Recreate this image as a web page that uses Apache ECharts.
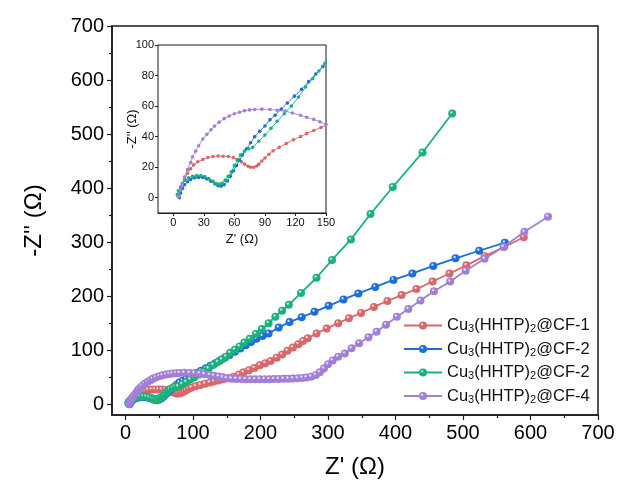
<!DOCTYPE html>
<html><head><meta charset="utf-8">
<script src="https://cdn.jsdelivr.net/npm/echarts@6/dist/echarts.min.js"></script>
<style>html,body{margin:0;padding:0;background:#fff}#c{width:618px;height:489px}</style>
</head><body><div id="c"></div>
<script>
const seriesKeys = ['CF-1', 'CF-2a', 'CF-2b', 'CF-4'];
const seriesLabels = ['CF-1', 'CF-2', 'CF-2', 'CF-4'];
const seriesColors = ['#d8676a', '#1b6ddd', '#1ab27a', '#a17fd6'];

const cf1 = [[5,1],[7,5],[9,9],[11,12],[14,16],[17,19],[20,21.5],[24,23.5],[29,25],[34,26.3],[39,27],[44,27.3],[49,27.2],[54,27],[59,26.3],[63,25],[67,23.5],[70,22],[73.5,20.6],[76,20],[79,20],[82,20.8],[84,22],[87,24],[90,26],[94,28.5],[98,30.7],[104,33],[111,35.5],[118,38],[125,40],[131,42],[138,44],[145,46],[152,48],[160,51],[168,55],[175,59],[183,63],[191,67],[199,72],[207,76],[215,80],[224,86],[232,92],[240,99],[248,105],[256,111],[263,117],[270,122],[283,131],[298,140],[315,150],[331,159],[349,169],[368,180],[388,191],[409,202],[431,213],[455,227],[480,242],[505,257],[532,274],[561,291],[590,309]];

const cf2a = [[6,0],[7,3],[9,6],[11,8.5],[14,10.5],[17,12],[21,13],[25,13.3],[29,13.2],[33,12.3],[37,10.8],[41,9],[44,7.8],[47,7.6],[50,8.5],[53,11],[56,14],[59,17.5],[62,21],[65,24.5],[68,28],[72,32],[76,36],[80,40],[85,43.5],[90,47],[95,51],[100,54],[106,58],[112,62],[119,66.5],[126,71],[133,76],[140,81],[147,86],[154,91],[162,97],[170,103],[178,109],[186,115],[194,121],[203,126],[212,131],[227,142],[243,152],[261,161],[280,171],[301,182],[323,194],[345,205],[370,217],[397,230],[425,242],[456,256],[489,270],[524,284],[562,299]];

const cf2b = [[4,2],[5,4.5],[7,7],[9,9.5],[12,11.5],[15,13],[19,14],[23,14.5],[27,14.5],[31,13.8],[35,12.5],[39,10.8],[42,9.3],[45,8.9],[48,9.5],[51,11.5],[54,14],[57,17],[60,21],[63,24.5],[66,28],[70,30.5],[74,32],[78,33],[84,37],[90,41],[96,45.5],[102,50],[109,55],[116,60],[123,66],[130,72.5],[137,78],[143,83],[149,88],[155,95],[162,101],[169,107],[176,114],[184,121],[193,130],[202,139],[212,150],[222,162],[232,173],[242,184],[260,206],[283,234],[306,267],[334,305],[363,352],[396,402],[440,466],[484,538]];

const cf4 = [[5,0.5],[7,5],[9,9],[11,13.6],[14,18.5],[17,23],[19,26.8],[22,30.5],[25,34],[29,38.4],[33,41.5],[37,44.5],[40.5,46.9],[45,49.5],[50,51.8],[55,53.5],[60,55],[65,56],[70,57],[75,57.5],[80,57.8],[87,58],[95,57.8],[102,57.3],[110,56.7],[117,55.5],[125,54],[131,52.7],[138,51.3],[144,49.7],[150,48],[157,47.3],[164,46.8],[171,46.5],[178,46.3],[185,46.2],[192,46.2],[199,46.2],[206,46.3],[213,46.4],[220,46.5],[227,46.7],[234,47],[241,47.2],[248,47.5],[255,48],[262,48.6],[268,49.5],[275,51],[282,54],[288,59],[294,66],[300,74],[307,81],[315,88],[325,94],[335,103.5],[346,113],[360,124],[372,134],[386,147],[402,162],[419,176],[437,192],[457,209],[481,227],[504,247],[532,269],[560,291],[591,319],[626,347]];

const seriesData = [cf1, cf2a, cf2b, cf4];

const mainMajorTicks = [0,100,200,300,400,500,600,700];
const mainMinorTicks = [50,150,250,350,450,550,650];
const insetXTicks = [0,30,60,90,120,150];
const insetYTicks = [0,20,40,60,80,100];

const FONT = 'Liberation Sans, Arial, sans-serif';
const AX = '#1a1a1a';

function sphere(c) {
  return {type:'radial', x:0.38, y:0.35, r:0.75, colorStops:[
    {offset:0, color:'#ffffff'}, {offset:0.3, color:c}, {offset:1, color:c}]};
}

function majorAxis(extra) {
  return Object.assign({
    type:'value', min:-20, max:700, gridIndex:0,
    axisLine:{show:true, onZero:false, lineStyle:{color:AX, width:1.5}},
    axisTick:{show:true, inside:false, length:5, customValues:mainMajorTicks, lineStyle:{color:AX, width:1.2}},
    axisLabel:{show:true, customValues:mainMajorTicks, fontSize:20, color:'#000', fontFamily:FONT, margin:8},
    splitLine:{show:false}
  }, extra);
}
function minorAxis(extra) {
  return Object.assign({
    type:'value', min:-20, max:700, gridIndex:0, offset:0,
    axisLine:{show:false, onZero:false},
    axisTick:{show:true, inside:false, length:3, customValues:mainMinorTicks, lineStyle:{color:AX, width:1.2}},
    axisLabel:{show:false},
    splitLine:{show:false}
  }, extra);
}

const xAxes = [
  majorAxis({position:'bottom', name:"Z' (Ω)", nameLocation:'middle', nameGap:40, nameMoveOverlap:false,
    nameTextStyle:{fontSize:24, color:'#000', fontFamily:FONT}}),
  minorAxis({position:'bottom'}),
  {type:'value', gridIndex:1, min:-15, max:150, position:'bottom',
    axisLine:{show:true, onZero:false, lineStyle:{color:AX, width:1}},
    axisTick:{show:true, length:3, customValues:insetXTicks, lineStyle:{color:AX}},
    axisLabel:{customValues:insetXTicks, fontSize:11, color:'#111', fontFamily:FONT, margin:4},
    splitLine:{show:false}, nameMoveOverlap:false,
    name:"Z' (Ω)", nameLocation:'middle', nameGap:20, nameTextStyle:{fontSize:13, color:'#111', fontFamily:FONT}}
];
const yAxes = [
  majorAxis({position:'left', name:"-Z'' (Ω)", nameLocation:'middle', nameGap:66, nameMoveOverlap:false,
    nameTextStyle:{fontSize:24, color:'#000', fontFamily:FONT}}),
  minorAxis({position:'left'}),
  {type:'value', gridIndex:1, min:-10, max:100, position:'left',
    axisLine:{show:true, onZero:false, lineStyle:{color:AX, width:1}},
    axisTick:{show:true, length:3, customValues:insetYTicks, lineStyle:{color:AX}},
    axisLabel:{customValues:insetYTicks, fontSize:11, color:'#111', fontFamily:FONT, margin:4},
    splitLine:{show:false}, nameMoveOverlap:false,
    name:"-Z'' (Ω)", nameLocation:'middle', nameGap:19, nameTextStyle:{fontSize:13, color:'#111', fontFamily:FONT}}
];

const series = [];
seriesKeys.forEach((k, i) => {
  series.push({
    name:k, type:'line', xAxisIndex:0, yAxisIndex:0, data:seriesData[i],
    symbol:'circle', symbolSize:8, showSymbol:true,
    lineStyle:{color:seriesColors[i], width:1.8},
    itemStyle:{color:sphere(seriesColors[i]), borderWidth:0},
    emphasis:{disabled:true}, animation:false, z:2+i
  });
});
seriesKeys.forEach((k, i) => {
  series.push({
    name:k, type:'line', xAxisIndex:2, yAxisIndex:2, data:seriesData[i],
    symbol:'circle', symbolSize:3.6, showSymbol:true, clip:true,
    lineStyle:{color:seriesColors[i], width:0.9},
    itemStyle:{color:seriesColors[i], borderWidth:0},
    emphasis:{disabled:true}, animation:false, z:10+i
  });
});

const chart = echarts.init(document.getElementById('c'), null, {renderer:'canvas'});
chart.setOption({
  backgroundColor:'#fff',
  animation:false,
  grid:[
    {left:112, right:20, top:26, bottom:74, show:true, borderColor:AX, borderWidth:1.5, backgroundColor:'transparent'},
    {left:158, top:45, width:168, height:168, show:true, borderColor:AX, borderWidth:1, backgroundColor:'#fff', z:5}
  ],
  xAxis:xAxes,
  yAxis:yAxes,
  legend:{
    data:seriesKeys, orient:'vertical', left:398, top:312, itemWidth:38, itemHeight:10, itemGap:6,
    selectedMode:false,
    formatter:function(name){ const i = seriesKeys.indexOf(name); return '{a|Cu}{s|3}{a|(HHTP)}{s|2}{a|@' + seriesLabels[i] + '}'; },
    textStyle:{fontFamily:FONT, color:'#111', rich:{
      a:{fontSize:16.5, lineHeight:18, fontFamily:FONT, color:'#111'},
      s:{fontSize:11, lineHeight:10, verticalAlign:'bottom', fontFamily:FONT, color:'#111'}
    }}
  },
  series:series
});
</script></body></html>
